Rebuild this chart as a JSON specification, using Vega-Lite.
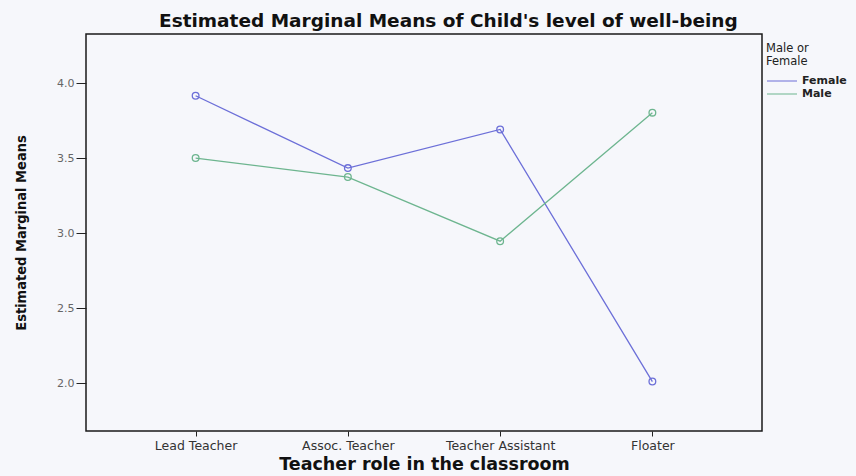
{
  "$schema": "https://vega.github.io/schema/vega-lite/v6.json",
  "autosize": {"type": "none"},
  "padding": {"left": 86, "top": 34, "right": 94, "bottom": 45},
  "width": 676,
  "height": 397,
  "background": "#f6f7fb",
  "config": {
    "view": {"stroke": "#1a1a1a", "strokeWidth": 1.5, "fill": "#f6f7fb"}
  },
  "title": {
    "text": "Estimated Marginal Means of Child's level of well-being",
    "font": "DejaVu Sans",
    "fontWeight": "bold",
    "fontSize": 18.5,
    "color": "#111",
    "anchor": "start",
    "frame": "group",
    "dx": 73,
    "offset": 4
  },
  "data": {
    "values": [
      {"role": "Lead Teacher", "sex": "Female", "mean": 3.918},
      {"role": "Assoc. Teacher", "sex": "Female", "mean": 3.435},
      {"role": "Teacher Assistant", "sex": "Female", "mean": 3.693},
      {"role": "Floater", "sex": "Female", "mean": 2.01},
      {"role": "Lead Teacher", "sex": "Male", "mean": 3.502},
      {"role": "Assoc. Teacher", "sex": "Male", "mean": 3.375},
      {"role": "Teacher Assistant", "sex": "Male", "mean": 2.947},
      {"role": "Floater", "sex": "Male", "mean": 3.805}
    ]
  },
  "encoding": {
    "x": {
      "field": "role",
      "type": "nominal",
      "sort": ["Lead Teacher", "Assoc. Teacher", "Teacher Assistant", "Floater"],
      "scale": {"type": "point", "padding": 0.72},
      "axis": {
        "title": "Teacher role in the classroom",
        "titleFont": "DejaVu Sans",
        "titleFontWeight": "bold",
        "titleFontSize": 17.5,
        "titleColor": "#111",
        "titlePadding": 4,
        "labelFont": "DejaVu Sans",
        "labelFontSize": 12.5,
        "labelColor": "#333",
        "labelAngle": 0,
        "labelPadding": 3,
        "tickSize": 5,
        "tickColor": "#222",
        "domain": false,
        "grid": false
      }
    },
    "y": {
      "field": "mean",
      "type": "quantitative",
      "scale": {"domain": [1.68, 4.33], "nice": false, "zero": false},
      "axis": {
        "title": "Estimated Marginal Means",
        "titleFont": "DejaVu Sans Condensed, Liberation Sans, sans-serif",
        "titleFontWeight": "bold",
        "titleFontSize": 14.5,
        "titleColor": "#111",
        "titlePadding": 28,
        "values": [2.0, 2.5, 3.0, 3.5, 4.0],
        "format": ".1f",
        "labelFont": "DejaVu Sans",
        "labelFontSize": 11,
        "labelColor": "#666",
        "labelPadding": 2,
        "tickSize": 10,
        "tickColor": "#222",
        "domain": false,
        "grid": false
      }
    },
    "color": {
      "field": "sex",
      "type": "nominal",
      "scale": {"domain": ["Female", "Male"], "range": ["#6c6fd8", "#6db58f"]},
      "legend": {
        "title": ["Male or", "Female"],
        "titleFont": "DejaVu Sans",
        "titleFontWeight": "normal",
        "titleFontSize": 11.5,
        "titleColor": "#222",
        "titleLineHeight": 13,
        "titlePadding": 7,
        "orient": "none",
        "legendX": 680,
        "legendY": 9,
        "symbolType": "stroke",
        "symbolSize": 900,
        "clipHeight": 13,
        "symbolStrokeWidth": 1.2,
        "labelFont": "DejaVu Sans",
        "labelFontWeight": "bold",
        "labelFontSize": 11,
        "labelColor": "#222",
        "labelOffset": 4,
        "rowPadding": 0
      }
    }
  },
  "layer": [
    {"mark": {"type": "line", "strokeWidth": 1.3}},
    {"mark": {"type": "point", "filled": false, "size": 45, "strokeWidth": 1.3, "opacity": 1}}
  ]
}
